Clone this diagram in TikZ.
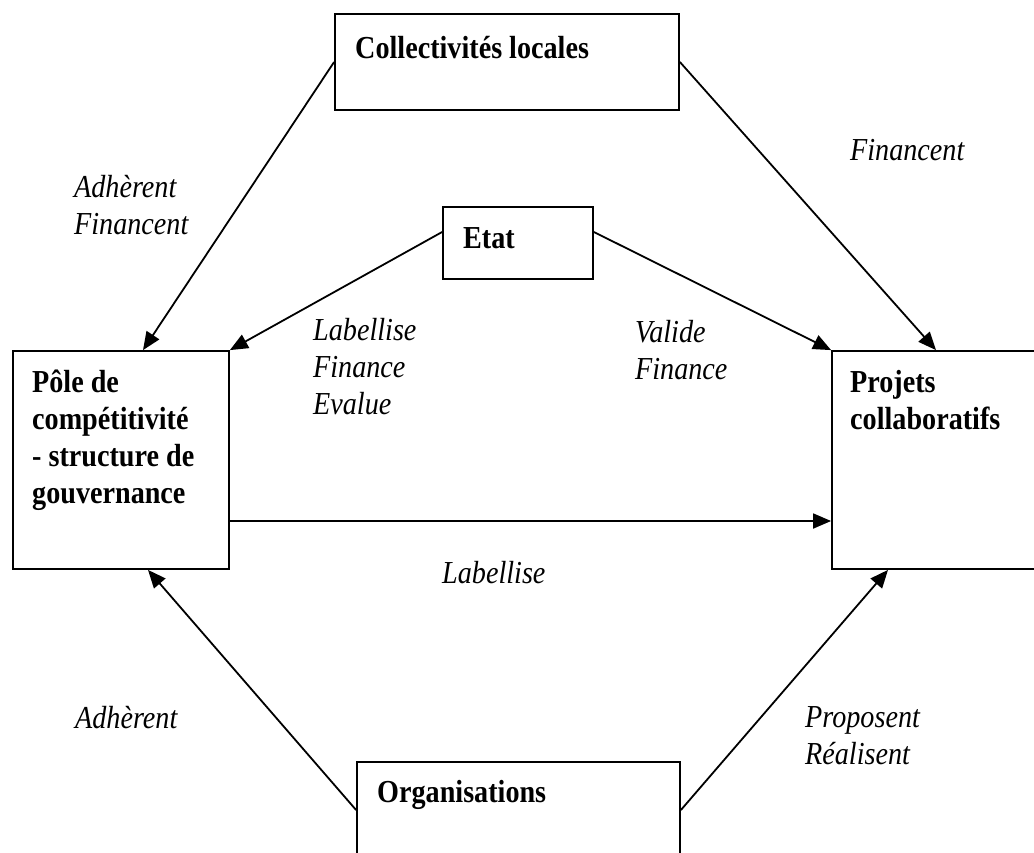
\documentclass[tikz,border=0pt]{standalone}
\usepackage{fontspec}
\setmainfont{Liberation Serif}[FakeStretch=0.88]
\usepackage{tikz}
\usetikzlibrary{positioning, arrows.meta}
\tikzset{box/.style={draw,line width=1.8pt,rectangle,inner sep=0pt}}
\tikzset{boxtext/.style={inner sep=0pt,anchor=base west,align=left,font=\fontsize{32}{37}\selectfont\bfseries}}
\tikzset{lab/.style={inner sep=0pt,anchor=base west,align=left,font=\fontsize{32}{37}\selectfont\itshape}}

\begin{document}
\begin{tikzpicture}[x=1pt,y=-1pt,link/.style={line width=1.8pt,-{Triangle[length=18pt,width=15pt]}}]
        \useasboundingbox (0,0) rectangle (1034,852);
        \node (CL) at (507,62) [box,minimum width=344pt,minimum height=96pt] {};
        \node (E) at (518,243) [box,minimum width=150pt,minimum height=72pt] {};
        \node (P) at (121,460) [box,minimum width=216pt,minimum height=218pt] {};
        \node (PC) at (936,460) [box,minimum width=208pt,minimum height=218pt] {};
        \node (O) at (518.5,810) [box,minimum width=323pt,minimum height=96pt] {};
        \node (CLt) at (355,58) [boxtext] {Collectivités locales};
        \node (Et) at (463,248) [boxtext] {Etat};
        \node (Pt) at (32,503) [boxtext] {Pôle de\\compétitivité\\- structure de\\gouvernance};
        \node (PCt) at (850,429) [boxtext] {Projets\\collaboratifs};
        \node (Ot) at (377,802) [boxtext] {Organisations};
        \draw[link] (CL.west) -- ([xshift=22pt]P.north);
        \draw[link] (CL.east) -- (PC.north);
        \draw[link] ([yshift=11pt]E.west) -- (P.north east);
        \draw[link] ([yshift=11pt]E.east) -- (PC.north west);
        \draw[link] ([yshift=-61pt]P.east) -- ([yshift=-61pt]PC.west);
        \draw[link] (O.west) -- ([xshift=27pt]P.south);
        \draw[link] (O.east) -- ([xshift=-48pt]PC.south);
        \node (A1) at (74,234) [lab] {Adhèrent\\Financent};
        \node (A2) at (850,160) [lab] {Financent};
        \node (A3) at (313,414) [lab] {Labellise\\Finance\\Evalue};
        \node (A4) at (635,379) [lab] {Valide\\Finance};
        \node (A5) at (442,583) [lab] {Labellise};
        \node (A6) at (75,728) [lab] {Adhèrent};
        \node (A7) at (805,764) [lab] {Proposent\\Réalisent};
    \end{tikzpicture}
\end{document}
